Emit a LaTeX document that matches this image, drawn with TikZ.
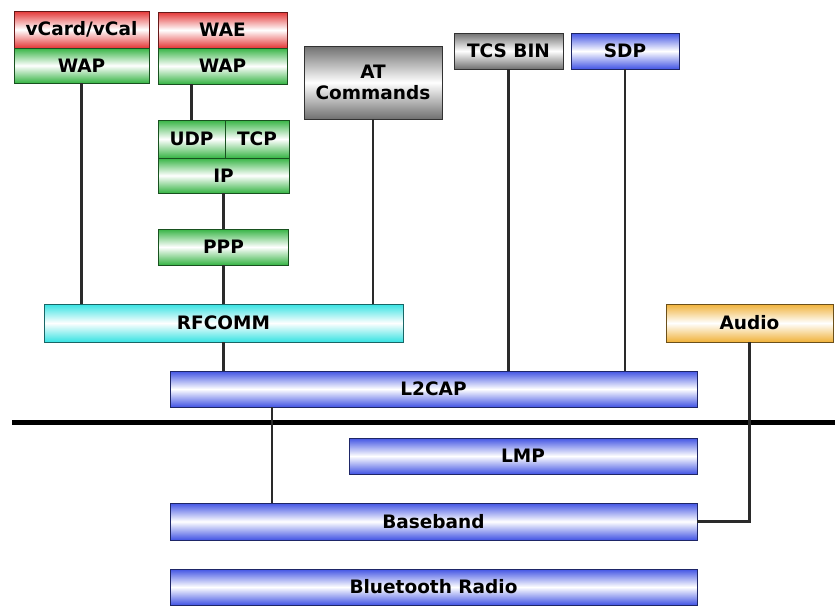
\documentclass[tikz,border=0pt]{standalone}
\usepackage{fontspec}
\setmainfont{DejaVu Sans}
\usepackage{tikz}
\usetikzlibrary{calc}
\definecolor{btBlue}{HTML}{4254E4}
\definecolor{btRed}{HTML}{E43636}
\definecolor{btGreen}{HTML}{36B444}
\definecolor{btCyan}{HTML}{36E2E2}
\definecolor{btGold}{HTML}{F0B23A}
\definecolor{btGray}{HTML}{707070}
\definecolor{btLink}{HTML}{2A2A2A}

\begin{document}
\begin{tikzpicture}[x=1pt, y=-1pt,
  layer/.style={draw=#1!45!black, line width=0.9pt, top color=#1, bottom color=#1,
                middle color=white, inner sep=0pt, align=center,
                font=\fontsize{18.5}{21}\selectfont\bfseries},
  link/.style={draw=btLink, line width=2.2pt},
  bus/.style={draw=black, line width=5pt}
]
  \useasboundingbox (0,0) rectangle (835,606);

  % upper protocol stacks
  \node[layer=btRed,   minimum width=135pt, minimum height=37pt] (vcard) at (81.5,29.5) {vCard/vCal};
  \node[layer=btGreen, minimum width=135pt, minimum height=35pt] (wapa)  at (81.5,65.5) {WAP};
  \node[layer=btRed,   minimum width=129pt, minimum height=36pt] (wae)   at (222.5,30) {WAE};
  \node[layer=btGreen, minimum width=129pt, minimum height=36pt] (wapb)  at (222.5,66) {WAP};
  \node[layer=btGreen, minimum width=67pt,  minimum height=38pt] (udp)   at (191.5,139) {UDP};
  \node[layer=btGreen, minimum width=64pt,  minimum height=38pt] (tcp)   at (257,139) {TCP};
  \node[layer=btGreen, minimum width=131pt, minimum height=35pt] (ip)    at (223.5,175.5) {IP};
  \node[layer=btGreen, minimum width=130pt, minimum height=36pt] (ppp)   at (223.5,247) {PPP};
  \node[layer=btGray,  minimum width=138pt, minimum height=73pt] (atcmd) at (373,82.5) {AT\\Commands};
  \node[layer=btGray,  minimum width=109pt, minimum height=36pt] (tcs)   at (508.5,51) {TCS BIN};
  \node[layer=btBlue,  minimum width=108pt, minimum height=36pt] (sdp)   at (625,51) {SDP};

  % middle layers
  \node[layer=btCyan,  minimum width=359pt, minimum height=38pt] (rfcomm) at (223.5,323) {RFCOMM};
  \node[layer=btGold,  minimum width=167pt, minimum height=38pt] (audio)  at (749.5,323) {Audio};
  \node[layer=btBlue,  minimum width=527pt, minimum height=36pt] (l2cap)  at (433.5,389) {L2CAP};

  % host controller interface
  \coordinate (busl) at (12,422);
  \coordinate (busr) at (835,422);
  \draw[bus] (busl) -- (busr);

  % lower layers
  \node[layer=btBlue, minimum width=348pt, minimum height=36pt] (lmp)      at (523,456) {LMP};
  \node[layer=btBlue, minimum width=527pt, minimum height=37pt] (baseband) at (433.5,521.5) {Baseband};
  \node[layer=btBlue, minimum width=527pt, minimum height=36pt] (radio)    at (433.5,587) {Bluetooth Radio};

  % links
  \coordinate (tap) at (272,0);
  \draw[link] (wapa.south) -- (wapa.south |- rfcomm.north);
  \draw[link] (udp.north |- wapb.south) -- (udp.north);
  \draw[link] (ip.south) -- (ppp.north);
  \draw[link] (ppp.south) -- (ppp.south |- rfcomm.north);
  \draw[link] (atcmd.south) -- (atcmd.south |- rfcomm.north);
  \draw[link] (rfcomm.south) -- (rfcomm.south |- l2cap.north);
  \draw[link] (tcs.south) -- (tcs.south |- l2cap.north);
  \draw[link] (sdp.south) -- (sdp.south |- l2cap.north);
  \draw[link] (l2cap.south -| tap) -- (baseband.north -| tap);
  \draw[link] (audio.south) |- (baseband.east);
\end{tikzpicture}
\end{document}
